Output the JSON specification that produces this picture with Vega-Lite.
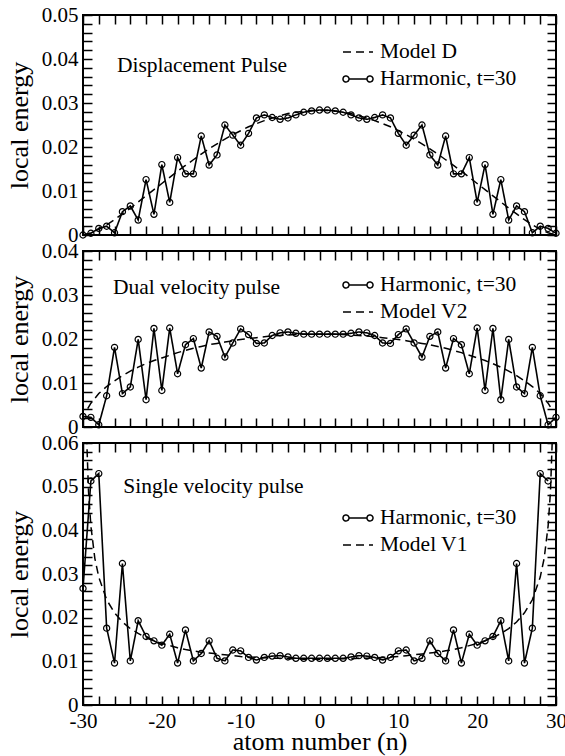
{
"$schema": "https://vega.github.io/schema/vega-lite/v6.json",
"padding": {"left": 5, "top": 3, "right": 5, "bottom": 3},
"config": {
  "font": "Liberation Serif",
  "view": {"stroke": "black", "strokeWidth": 2},
  "axis": {"labelFontSize": 21, "labelColor": "black", "labelFont": "Liberation Serif", "titleFont": "Liberation Serif", "titleFontSize": 26, "titleFontWeight": "normal", "titleColor": "black", "tickColor": "black", "tickWidth": 1.5, "domain": false, "grid": false, "labelFlush": false, "labelOverlap": false, "tickSize": -9, "labelPadding": 14},
  "legend": {"labelFont": "Liberation Serif", "labelFontSize": 21.5, "labelColor": "black", "symbolSize": 900, "symbolStrokeWidth": 1.5, "symbolStrokeColor": "black", "labelOffset": 6, "rowPadding": -7}
},
"datasets": {
  "d_harm": [{"n":-30,"E":0.0},{"n":-29,"E":0.0004},{"n":-28,"E":0.0015},{"n":-27,"E":0.002},{"n":-26,"E":0.0005},{"n":-25,"E":0.0053},{"n":-24,"E":0.0066},{"n":-23,"E":0.0034},{"n":-22,"E":0.0126},{"n":-21,"E":0.0047},{"n":-20,"E":0.016},{"n":-19,"E":0.0074},{"n":-18,"E":0.0176},{"n":-17,"E":0.0139},{"n":-16,"E":0.0139},{"n":-15,"E":0.0225},{"n":-14,"E":0.0159},{"n":-13,"E":0.0182},{"n":-12,"E":0.025},{"n":-11,"E":0.0227},{"n":-10,"E":0.0204},{"n":-9,"E":0.0231},{"n":-8,"E":0.0266},{"n":-7,"E":0.0273},{"n":-6,"E":0.0267},{"n":-5,"E":0.0263},{"n":-4,"E":0.0266},{"n":-3,"E":0.0273},{"n":-2,"E":0.0279},{"n":-1,"E":0.0282},{"n":0,"E":0.0284},{"n":1,"E":0.0284},{"n":2,"E":0.0282},{"n":3,"E":0.0279},{"n":4,"E":0.0273},{"n":5,"E":0.0266},{"n":6,"E":0.0263},{"n":7,"E":0.0267},{"n":8,"E":0.0273},{"n":9,"E":0.0266},{"n":10,"E":0.0231},{"n":11,"E":0.0204},{"n":12,"E":0.0227},{"n":13,"E":0.025},{"n":14,"E":0.0182},{"n":15,"E":0.0159},{"n":16,"E":0.0225},{"n":17,"E":0.0139},{"n":18,"E":0.0139},{"n":19,"E":0.0176},{"n":20,"E":0.0074},{"n":21,"E":0.016},{"n":22,"E":0.0047},{"n":23,"E":0.0126},{"n":24,"E":0.0034},{"n":25,"E":0.0066},{"n":26,"E":0.0053},{"n":27,"E":0.0005},{"n":28,"E":0.002},{"n":29,"E":0.0015},{"n":30,"E":0.0004}],
  "d_model": [{"n":-30,"E":0.0},{"n":-29,"E":0.0005},{"n":-28,"E":0.0013},{"n":-27,"E":0.0023},{"n":-26,"E":0.0035},{"n":-25,"E":0.0048},{"n":-24,"E":0.0061},{"n":-23,"E":0.0075},{"n":-22,"E":0.0089},{"n":-21,"E":0.0103},{"n":-20,"E":0.0117},{"n":-19,"E":0.0131},{"n":-18,"E":0.0145},{"n":-17,"E":0.0158},{"n":-16,"E":0.0171},{"n":-15,"E":0.0184},{"n":-14,"E":0.0196},{"n":-13,"E":0.0207},{"n":-12,"E":0.0218},{"n":-11,"E":0.0228},{"n":-10,"E":0.0237},{"n":-9,"E":0.0246},{"n":-8,"E":0.0253},{"n":-7,"E":0.026},{"n":-6,"E":0.0266},{"n":-5,"E":0.0271},{"n":-4,"E":0.0276},{"n":-3,"E":0.0279},{"n":-2,"E":0.0281},{"n":-1,"E":0.0283},{"n":0,"E":0.0283},{"n":1,"E":0.0283},{"n":2,"E":0.0281},{"n":3,"E":0.0279},{"n":4,"E":0.0276},{"n":5,"E":0.0271},{"n":6,"E":0.0266},{"n":7,"E":0.026},{"n":8,"E":0.0253},{"n":9,"E":0.0246},{"n":10,"E":0.0237},{"n":11,"E":0.0228},{"n":12,"E":0.0218},{"n":13,"E":0.0207},{"n":14,"E":0.0196},{"n":15,"E":0.0184},{"n":16,"E":0.0171},{"n":17,"E":0.0158},{"n":18,"E":0.0145},{"n":19,"E":0.0131},{"n":20,"E":0.0117},{"n":21,"E":0.0103},{"n":22,"E":0.0089},{"n":23,"E":0.0075},{"n":24,"E":0.0061},{"n":25,"E":0.0048},{"n":26,"E":0.0035},{"n":27,"E":0.0023},{"n":28,"E":0.0013},{"n":29,"E":0.0005},{"n":30,"E":0.0}],
  "v2_harm": [{"n":-30,"E":0.0024},{"n":-29,"E":0.0022},{"n":-28,"E":0.0005},{"n":-27,"E":0.0071},{"n":-26,"E":0.0181},{"n":-25,"E":0.0076},{"n":-24,"E":0.0091},{"n":-23,"E":0.0199},{"n":-22,"E":0.0062},{"n":-21,"E":0.0224},{"n":-20,"E":0.0083},{"n":-19,"E":0.0225},{"n":-18,"E":0.0121},{"n":-17,"E":0.0187},{"n":-16,"E":0.0201},{"n":-15,"E":0.0134},{"n":-14,"E":0.0216},{"n":-13,"E":0.0206},{"n":-12,"E":0.0159},{"n":-11,"E":0.0191},{"n":-10,"E":0.0223},{"n":-9,"E":0.021},{"n":-8,"E":0.019},{"n":-7,"E":0.0191},{"n":-6,"E":0.0208},{"n":-5,"E":0.0214},{"n":-4,"E":0.0216},{"n":-3,"E":0.0213},{"n":-2,"E":0.0211},{"n":-1,"E":0.0211},{"n":0,"E":0.0211},{"n":1,"E":0.0211},{"n":2,"E":0.0211},{"n":3,"E":0.0211},{"n":4,"E":0.0213},{"n":5,"E":0.0216},{"n":6,"E":0.0214},{"n":7,"E":0.0208},{"n":8,"E":0.0191},{"n":9,"E":0.019},{"n":10,"E":0.021},{"n":11,"E":0.0223},{"n":12,"E":0.0191},{"n":13,"E":0.0159},{"n":14,"E":0.0206},{"n":15,"E":0.0216},{"n":16,"E":0.0134},{"n":17,"E":0.0201},{"n":18,"E":0.0187},{"n":19,"E":0.0121},{"n":20,"E":0.0225},{"n":21,"E":0.0083},{"n":22,"E":0.0224},{"n":23,"E":0.0062},{"n":24,"E":0.0199},{"n":25,"E":0.0091},{"n":26,"E":0.0076},{"n":27,"E":0.0181},{"n":28,"E":0.0071},{"n":29,"E":0.0005},{"n":30,"E":0.0022}],
  "v2_model": [{"n":-29.4,"E":0.0042},{"n":-29,"E":0.0054},{"n":-28,"E":0.0076},{"n":-27,"E":0.0092},{"n":-26,"E":0.0105},{"n":-25,"E":0.0117},{"n":-24,"E":0.0127},{"n":-23,"E":0.0136},{"n":-22,"E":0.0144},{"n":-21,"E":0.0151},{"n":-20,"E":0.0157},{"n":-19,"E":0.0163},{"n":-18,"E":0.0169},{"n":-17,"E":0.0174},{"n":-16,"E":0.0179},{"n":-15,"E":0.0183},{"n":-14,"E":0.0187},{"n":-13,"E":0.019},{"n":-12,"E":0.0193},{"n":-11,"E":0.0196},{"n":-10,"E":0.0199},{"n":-9,"E":0.0201},{"n":-8,"E":0.0203},{"n":-7,"E":0.0205},{"n":-6,"E":0.0207},{"n":-5,"E":0.0208},{"n":-4,"E":0.0209},{"n":-3,"E":0.021},{"n":-2,"E":0.0211},{"n":-1,"E":0.0211},{"n":0,"E":0.0211},{"n":1,"E":0.0211},{"n":2,"E":0.0211},{"n":3,"E":0.021},{"n":4,"E":0.0209},{"n":5,"E":0.0208},{"n":6,"E":0.0207},{"n":7,"E":0.0205},{"n":8,"E":0.0203},{"n":9,"E":0.0201},{"n":10,"E":0.0199},{"n":11,"E":0.0196},{"n":12,"E":0.0193},{"n":13,"E":0.019},{"n":14,"E":0.0187},{"n":15,"E":0.0183},{"n":16,"E":0.0179},{"n":17,"E":0.0174},{"n":18,"E":0.0169},{"n":19,"E":0.0163},{"n":20,"E":0.0157},{"n":21,"E":0.0151},{"n":22,"E":0.0144},{"n":23,"E":0.0136},{"n":24,"E":0.0127},{"n":25,"E":0.0117},{"n":26,"E":0.0105},{"n":27,"E":0.0092},{"n":28,"E":0.0076},{"n":29,"E":0.0054},{"n":29.4,"E":0.0042}],
  "v1_harm": [{"n":-30,"E":0.0267},{"n":-29,"E":0.0513},{"n":-28,"E":0.053},{"n":-27,"E":0.0176},{"n":-26,"E":0.0096},{"n":-25,"E":0.0324},{"n":-24,"E":0.0101},{"n":-23,"E":0.0193},{"n":-22,"E":0.0157},{"n":-21,"E":0.0147},{"n":-20,"E":0.0137},{"n":-19,"E":0.0162},{"n":-18,"E":0.0096},{"n":-17,"E":0.0172},{"n":-16,"E":0.0101},{"n":-15,"E":0.0118},{"n":-14,"E":0.0147},{"n":-13,"E":0.0107},{"n":-12,"E":0.0101},{"n":-11,"E":0.0126},{"n":-10,"E":0.0124},{"n":-9,"E":0.0109},{"n":-8,"E":0.0103},{"n":-7,"E":0.0109},{"n":-6,"E":0.0112},{"n":-5,"E":0.0113},{"n":-4,"E":0.011},{"n":-3,"E":0.0107},{"n":-2,"E":0.0107},{"n":-1,"E":0.0107},{"n":0,"E":0.0107},{"n":1,"E":0.0107},{"n":2,"E":0.0107},{"n":3,"E":0.0107},{"n":4,"E":0.011},{"n":5,"E":0.0113},{"n":6,"E":0.0112},{"n":7,"E":0.0109},{"n":8,"E":0.0103},{"n":9,"E":0.0109},{"n":10,"E":0.0124},{"n":11,"E":0.0126},{"n":12,"E":0.0101},{"n":13,"E":0.0107},{"n":14,"E":0.0147},{"n":15,"E":0.0118},{"n":16,"E":0.0101},{"n":17,"E":0.0172},{"n":18,"E":0.0096},{"n":19,"E":0.0162},{"n":20,"E":0.0137},{"n":21,"E":0.0147},{"n":22,"E":0.0157},{"n":23,"E":0.0193},{"n":24,"E":0.0101},{"n":25,"E":0.0324},{"n":26,"E":0.0096},{"n":27,"E":0.0176},{"n":28,"E":0.053},{"n":29,"E":0.0513}],
  "v1_model": [{"n":-29.6,"E":0.0645},{"n":-29.3,"E":0.0489},{"n":-29,"E":0.041},{"n":-28.5,"E":0.0336},{"n":-28,"E":0.0293},{"n":-27,"E":0.0241},{"n":-26,"E":0.0211},{"n":-25,"E":0.019},{"n":-24,"E":0.0175},{"n":-23,"E":0.0164},{"n":-22,"E":0.0154},{"n":-21,"E":0.0147},{"n":-20,"E":0.0141},{"n":-19,"E":0.0136},{"n":-18,"E":0.0131},{"n":-17,"E":0.0127},{"n":-16,"E":0.0124},{"n":-15,"E":0.0121},{"n":-14,"E":0.0119},{"n":-13,"E":0.0117},{"n":-12,"E":0.0115},{"n":-11,"E":0.0113},{"n":-10,"E":0.0111},{"n":-9,"E":0.011},{"n":-8,"E":0.0109},{"n":-7,"E":0.0108},{"n":-6,"E":0.0107},{"n":-5,"E":0.0107},{"n":-4,"E":0.0106},{"n":-3,"E":0.0106},{"n":-2,"E":0.0105},{"n":-1,"E":0.0105},{"n":0,"E":0.0105},{"n":1,"E":0.0105},{"n":2,"E":0.0105},{"n":3,"E":0.0106},{"n":4,"E":0.0106},{"n":5,"E":0.0107},{"n":6,"E":0.0107},{"n":7,"E":0.0108},{"n":8,"E":0.0109},{"n":9,"E":0.011},{"n":10,"E":0.0111},{"n":11,"E":0.0113},{"n":12,"E":0.0115},{"n":13,"E":0.0117},{"n":14,"E":0.0119},{"n":15,"E":0.0121},{"n":16,"E":0.0124},{"n":17,"E":0.0127},{"n":18,"E":0.0131},{"n":19,"E":0.0136},{"n":20,"E":0.0141},{"n":21,"E":0.0147},{"n":22,"E":0.0154},{"n":23,"E":0.0164},{"n":24,"E":0.0175},{"n":25,"E":0.019},{"n":26,"E":0.0211},{"n":27,"E":0.0241},{"n":28,"E":0.0293},{"n":28.5,"E":0.0336},{"n":29,"E":0.041},{"n":29.3,"E":0.0489},{"n":29.6,"E":0.0645}]
},
"spacing": 16,
"bounds": "flush",
"resolve": {"scale": {"strokeDash": "independent"}, "legend": {"strokeDash": "independent"}},
"vconcat": [
 {
  "width": 473, "height": 220,
  "resolve": {"axis": {"x": "independent", "y": "independent"}},
  "layer": [
   {"data": {"name": "d_model"}, "mark": {"type": "line", "color": "black", "strokeWidth": 1.5, "clip": true},
    "encoding": {
     "x": {"field": "n", "type": "quantitative", "scale": {"domain": [-30, 30], "nice": false, "zero": false},
       "axis": {"orient": "top", "values": [-30,-28,-26,-24,-22,-20,-18,-16,-14,-12,-10,-8,-6,-4,-2,0,2,4,6,8,10,12,14,16,18,20,22,24,26,28,30], "labels": false, "title": null, "encode": {"ticks": {"update": {"y2": {"signal": "datum.value % 10 == 0 ? 9 : 5"}}}}}},
     "y": {"field": "E", "type": "quantitative", "scale": {"domain": [0, 0.05], "nice": false},
       "axis": {"orient": "right", "values": [0,0.002,0.004,0.006,0.008,0.01,0.012,0.014,0.016,0.018,0.02,0.022,0.024,0.026,0.028,0.03,0.032,0.034,0.036,0.038,0.04,0.042,0.044,0.046,0.048,0.05], "labels": false, "title": null, "encode": {"ticks": {"update": {"x2": {"signal": "round(datum.value*1000) % 10 == 0 ? -9 : -5"}}}}}},
     "strokeDash": {"datum": "Model D", "type": "nominal", "scale": {"domain": ["Model D", "Harmonic, t=30"], "range": [[8, 5], [1, 0]]},
       "legend": {"orient": "none", "legendX": 259, "legendY": 21, "title": null, "symbolType": "stroke",
         "encode": {"symbols": {"update": {"shape": {"signal": "datum.value == 'Harmonic, t=30' ? 'M-1,0A0.2,0.2,0,1,1,-0.6,0A0.2,0.2,0,1,1,-1,0M-0.6,0L0.6,0M0.6,0A0.2,0.2,0,1,1,1,0A0.2,0.2,0,1,1,0.6,0' : 'stroke'"}, "fill": {"value": "transparent"}, "stroke": {"value": "black"}}}}}}
    }},
   {"data": {"name": "d_harm"}, "mark": {"type": "line", "color": "black", "strokeWidth": 1.6},
    "encoding": {
     "x": {"field": "n", "type": "quantitative",
       "axis": {"orient": "bottom", "values": [-30,-28,-26,-24,-22,-20,-18,-16,-14,-12,-10,-8,-6,-4,-2,0,2,4,6,8,10,12,14,16,18,20,22,24,26,28,30], "labels": false, "title": null, "encode": {"ticks": {"update": {"y2": {"signal": "datum.value % 10 == 0 ? -9 : -5"}}}}}},
     "y": {"field": "E", "type": "quantitative",
       "axis": {"orient": "left", "values": [0,0.002,0.004,0.006,0.008,0.01,0.012,0.014,0.016,0.018,0.02,0.022,0.024,0.026,0.028,0.03,0.032,0.034,0.036,0.038,0.04,0.042,0.044,0.046,0.048,0.05], "title": "local energy", "titlePadding": 9, "labelExpr": "round(datum.value*1000) % 10 == 0 ? (datum.value == 0 ? '0' : format(datum.value, '.2f')) : ''", "encode": {"ticks": {"update": {"x2": {"signal": "round(datum.value*1000) % 10 == 0 ? 9 : 5"}}}}}},
     "strokeDash": {"datum": "Harmonic, t=30", "type": "nominal"}
    }},
   {"data": {"name": "d_harm"}, "mark": {"type": "point", "shape": "circle", "filled": false, "color": "black", "size": 38, "strokeWidth": 1.2, "opacity": 1},
    "encoding": {"x": {"field": "n", "type": "quantitative", "axis": null}, "y": {"field": "E", "type": "quantitative", "axis": null}}},
   {"data": {"values": [{}]}, "mark": {"type": "text", "text": "Displacement Pulse", "align": "left", "baseline": "middle", "fontSize": 21.5, "color": "black"},
    "encoding": {"x": {"datum": -25.7, "type": "quantitative", "axis": null}, "y": {"datum": 0.0384, "type": "quantitative", "axis": null}}}
  ]
 },
 {
  "width": 473, "height": 176,
  "resolve": {"axis": {"x": "independent", "y": "independent"}},
  "layer": [
   {"data": {"name": "v2_model"}, "mark": {"type": "line", "color": "black", "strokeWidth": 1.5, "clip": true},
    "encoding": {
     "x": {"field": "n", "type": "quantitative", "scale": {"domain": [-30, 30], "nice": false, "zero": false},
       "axis": {"orient": "top", "values": [-30,-28,-26,-24,-22,-20,-18,-16,-14,-12,-10,-8,-6,-4,-2,0,2,4,6,8,10,12,14,16,18,20,22,24,26,28,30], "labels": false, "title": null, "encode": {"ticks": {"update": {"y2": {"signal": "datum.value % 10 == 0 ? 9 : 5"}}}}}},
     "y": {"field": "E", "type": "quantitative", "scale": {"domain": [0, 0.04], "nice": false},
       "axis": {"orient": "right", "values": [0,0.002,0.004,0.006,0.008,0.01,0.012,0.014,0.016,0.018,0.02,0.022,0.024,0.026,0.028,0.03,0.032,0.034,0.036,0.038,0.04], "labels": false, "title": null, "encode": {"ticks": {"update": {"x2": {"signal": "round(datum.value*1000) % 10 == 0 ? -9 : -5"}}}}}},
     "strokeDash": {"datum": "Model V2", "type": "nominal", "scale": {"domain": ["Harmonic, t=30", "Model V2"], "range": [[1, 0], [8, 5]]},
       "legend": {"orient": "none", "legendX": 259, "legendY": 18, "title": null, "symbolType": "stroke",
         "encode": {"symbols": {"update": {"shape": {"signal": "datum.value == 'Harmonic, t=30' ? 'M-1,0A0.2,0.2,0,1,1,-0.6,0A0.2,0.2,0,1,1,-1,0M-0.6,0L0.6,0M0.6,0A0.2,0.2,0,1,1,1,0A0.2,0.2,0,1,1,0.6,0' : 'stroke'"}, "fill": {"value": "transparent"}, "stroke": {"value": "black"}}}}}}
    }},
   {"data": {"name": "v2_harm"}, "mark": {"type": "line", "color": "black", "strokeWidth": 1.6},
    "encoding": {
     "x": {"field": "n", "type": "quantitative",
       "axis": {"orient": "bottom", "values": [-30,-28,-26,-24,-22,-20,-18,-16,-14,-12,-10,-8,-6,-4,-2,0,2,4,6,8,10,12,14,16,18,20,22,24,26,28,30], "labels": false, "title": null, "encode": {"ticks": {"update": {"y2": {"signal": "datum.value % 10 == 0 ? -9 : -5"}}}}}},
     "y": {"field": "E", "type": "quantitative",
       "axis": {"orient": "left", "values": [0,0.002,0.004,0.006,0.008,0.01,0.012,0.014,0.016,0.018,0.02,0.022,0.024,0.026,0.028,0.03,0.032,0.034,0.036,0.038,0.04], "title": "local energy", "titlePadding": 9, "labelExpr": "round(datum.value*1000) % 10 == 0 ? (datum.value == 0 ? '0' : format(datum.value, '.2f')) : ''", "encode": {"ticks": {"update": {"x2": {"signal": "round(datum.value*1000) % 10 == 0 ? 9 : 5"}}}}}},
     "strokeDash": {"datum": "Harmonic, t=30", "type": "nominal"}
    }},
   {"data": {"name": "v2_harm"}, "mark": {"type": "point", "shape": "circle", "filled": false, "color": "black", "size": 38, "strokeWidth": 1.2, "opacity": 1},
    "encoding": {"x": {"field": "n", "type": "quantitative", "axis": null}, "y": {"field": "E", "type": "quantitative", "axis": null}}},
   {"data": {"values": [{}]}, "mark": {"type": "text", "text": "Dual velocity pulse", "align": "left", "baseline": "middle", "fontSize": 21.5, "color": "black"},
    "encoding": {"x": {"datum": -26.2, "type": "quantitative", "axis": null}, "y": {"datum": 0.0316, "type": "quantitative", "axis": null}}}
  ]
 },
 {
  "width": 473, "height": 262,
  "resolve": {"axis": {"x": "independent", "y": "independent"}},
  "layer": [
   {"data": {"name": "v1_model"}, "mark": {"type": "line", "color": "black", "strokeWidth": 1.5, "clip": true},
    "encoding": {
     "x": {"field": "n", "type": "quantitative", "scale": {"domain": [-30, 30], "nice": false, "zero": false},
       "axis": {"orient": "top", "values": [-30,-28,-26,-24,-22,-20,-18,-16,-14,-12,-10,-8,-6,-4,-2,0,2,4,6,8,10,12,14,16,18,20,22,24,26,28,30], "labels": false, "title": null, "encode": {"ticks": {"update": {"y2": {"signal": "datum.value % 10 == 0 ? 9 : 5"}}}}}},
     "y": {"field": "E", "type": "quantitative", "scale": {"domain": [0, 0.06], "nice": false},
       "axis": {"orient": "right", "values": [0,0.002,0.004,0.006,0.008,0.01,0.012,0.014,0.016,0.018,0.02,0.022,0.024,0.026,0.028,0.03,0.032,0.034,0.036,0.038,0.04,0.042,0.044,0.046,0.048,0.05,0.052,0.054,0.056,0.058,0.06], "labels": false, "title": null, "encode": {"ticks": {"update": {"x2": {"signal": "round(datum.value*1000) % 10 == 0 ? -9 : -5"}}}}}},
     "strokeDash": {"datum": "Model V1", "type": "nominal", "scale": {"domain": ["Harmonic, t=30", "Model V1"], "range": [[1, 0], [8, 5]]},
       "legend": {"orient": "none", "legendX": 259, "legendY": 59, "title": null, "symbolType": "stroke",
         "encode": {"symbols": {"update": {"shape": {"signal": "datum.value == 'Harmonic, t=30' ? 'M-1,0A0.2,0.2,0,1,1,-0.6,0A0.2,0.2,0,1,1,-1,0M-0.6,0L0.6,0M0.6,0A0.2,0.2,0,1,1,1,0A0.2,0.2,0,1,1,0.6,0' : 'stroke'"}, "fill": {"value": "transparent"}, "stroke": {"value": "black"}}}}}}
    }},
   {"data": {"name": "v1_harm"}, "mark": {"type": "line", "color": "black", "strokeWidth": 1.6},
    "encoding": {
     "x": {"field": "n", "type": "quantitative",
       "axis": {"orient": "bottom", "values": [-30,-28,-26,-24,-22,-20,-18,-16,-14,-12,-10,-8,-6,-4,-2,0,2,4,6,8,10,12,14,16,18,20,22,24,26,28,30], "title": "atom number (n)", "titlePadding": -3, "labelExpr": "datum.value % 10 == 0 ? toString(datum.value) : ''", "encode": {"ticks": {"update": {"y2": {"signal": "datum.value % 10 == 0 ? -9 : -5"}}}}}},
     "y": {"field": "E", "type": "quantitative",
       "axis": {"orient": "left", "values": [0,0.002,0.004,0.006,0.008,0.01,0.012,0.014,0.016,0.018,0.02,0.022,0.024,0.026,0.028,0.03,0.032,0.034,0.036,0.038,0.04,0.042,0.044,0.046,0.048,0.05,0.052,0.054,0.056,0.058,0.06], "title": "local energy", "titlePadding": 9, "labelExpr": "round(datum.value*1000) % 10 == 0 ? (datum.value == 0 ? '0' : format(datum.value, '.2f')) : ''", "encode": {"ticks": {"update": {"x2": {"signal": "round(datum.value*1000) % 10 == 0 ? 9 : 5"}}}}}},
     "strokeDash": {"datum": "Harmonic, t=30", "type": "nominal"}
    }},
   {"data": {"name": "v1_harm"}, "mark": {"type": "point", "shape": "circle", "filled": false, "color": "black", "size": 38, "strokeWidth": 1.2, "opacity": 1},
    "encoding": {"x": {"field": "n", "type": "quantitative", "axis": null}, "y": {"field": "E", "type": "quantitative", "axis": null}}},
   {"data": {"values": [{}]}, "mark": {"type": "text", "text": "Single velocity pulse", "align": "left", "baseline": "middle", "fontSize": 21.5, "color": "black"},
    "encoding": {"x": {"datum": -24.9, "type": "quantitative", "axis": null}, "y": {"datum": 0.05, "type": "quantitative", "axis": null}}}
  ]
 }
]
}
